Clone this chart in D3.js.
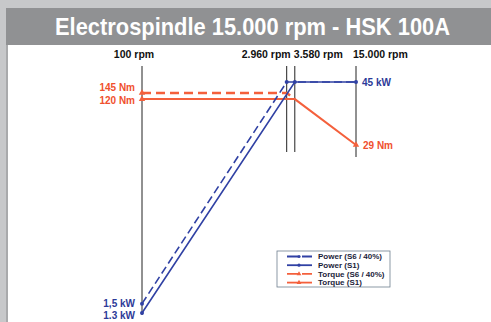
<!DOCTYPE html>
<html><head><meta charset="utf-8">
<script src="https://cdn.jsdelivr.net/npm/d3@7"></script>
<style>html,body{margin:0;padding:0;background:#c7c8ca;}svg{display:block;}</style>
</head><body>
<script>
const titleText = "Electrospindle 15.000 rpm - HSK 100A";
const rpmTicks = [100, 2960, 3580, 15000];
const rpmLabels = ["100 rpm", "2.960 rpm", "3.580 rpm", "15.000 rpm"];
const powerS6 = [[100, 1.5], [2960, 45], [15000, 45]];
const powerS1 = [[100, 1.3], [3580, 45], [15000, 45]];
const torqueS6 = [[100, 145], [2960, 145], [3580, 120]];
const torqueS1 = [[100, 120], [3580, 120], [15000, 29]];
const powerLabels = [[1.5, "1,5 kW"], [1.3, "1.3 kW"]];
const torqueLabels = [[145, "145 Nm"], [120, "120 Nm"]];
const legendNames = ["Power (S6 / 40%)", "Power (S1)", "Torque (S6 / 40%)", "Torque (S1)"];

const W = 491, H = 322;
const BLUE = "#3041a4", ORANGE = "#f4603c", OTXT = "#f0502e", BTXT = "#2c3a98";
const svg = d3.select("body").append("svg").attr("width", W).attr("height", H);

// frame
svg.append("rect").attr("x", 0).attr("y", 0).attr("width", W).attr("height", H).attr("fill", "#c7c8ca");
svg.append("rect").attr("x", 6).attr("y", 8).attr("width", W - 6).attr("height", 37).attr("fill", "#909193");
svg.append("rect").attr("x", 6).attr("y", 45).attr("width", 2).attr("height", H - 45).attr("fill", "#a9aaac");
svg.append("rect").attr("x", 8).attr("y", 45).attr("width", W - 8).attr("height", H - 45).attr("fill", "#ffffff");
svg.append("text").attr("x", 55).attr("y", 35).attr("textLength", 395).attr("lengthAdjust", "spacingAndGlyphs")
  .attr("font-family", "'Liberation Sans Narrow','Liberation Sans',Arial,sans-serif").attr("font-weight", "bold")
  .attr("font-size", 24).attr("fill", "#ffffff").text(titleText);

const x = d3.scaleLog().domain([100, 15000]).range([142, 356]);
const yP = d3.scaleLog().domain([1.3, 45]).range([313, 82]);
const yT = d3.scaleLog().domain([29, 145]).range([145, 93]);

const font = "'Liberation Sans',Arial,sans-serif";

// vertical rpm lines
const vBottoms = [yP(1.3) + 2, 152, 152, yT(29) + 12];
rpmTicks.forEach((r, i) => {
  svg.append("line").attr("x1", x(r)).attr("x2", x(r)).attr("y1", 66).attr("y2", vBottoms[i])
    .attr("stroke", "#222").attr("stroke-width", 1);
});
const labelAnchor = ["middle", "end", "start", "start"];
const labelDx = [-8, 4, -1, -3];
rpmTicks.forEach((r, i) => {
  svg.append("text").attr("x", x(r) + labelDx[i]).attr("y", 58).attr("text-anchor", labelAnchor[i])
    .attr("font-family", font).attr("font-weight", "bold").attr("font-size", 10.5).attr("fill", "#111")
    .text(rpmLabels[i]);
});

const lineP = d3.line().x(d => x(d[0])).y(d => yP(d[1]));
const lineT = d3.line().x(d => x(d[0])).y(d => yT(d[1]));

svg.append("path").attr("d", lineT(torqueS6)).attr("fill", "none").attr("stroke", ORANGE)
  .attr("stroke-width", 2.5).attr("stroke-dasharray", "9,5");
svg.append("path").attr("d", lineT(torqueS1)).attr("fill", "none").attr("stroke", ORANGE).attr("stroke-width", 2);
svg.append("path").attr("d", lineP(powerS6)).attr("fill", "none").attr("stroke", BLUE)
  .attr("stroke-width", 1.6).attr("stroke-dasharray", "8,4");
svg.append("path").attr("d", lineP(powerS1)).attr("fill", "none").attr("stroke", BLUE).attr("stroke-width", 1.6);

// markers
const tri = d3.symbol().type(d3.symbolTriangle).size(18);
[torqueS6[0], torqueS1[0], torqueS1[2]].forEach(d => {
  svg.append("path").attr("d", tri()).attr("transform", `translate(${x(d[0])},${yT(d[1])})`).attr("fill", ORANGE);
});
[powerS6[0], powerS6[1], powerS1[0], powerS1[1], powerS1[2]].forEach(d => {
  svg.append("circle").attr("cx", x(d[0])).attr("cy", yP(d[1])).attr("r", 2).attr("fill", BLUE);
});

// value labels (spread apart so they do not collide)
const torqueDy = [-2, 5], powerDy = [3, 5.5];
torqueLabels.forEach(([v, t], i) => {
  svg.append("text").attr("x", 135).attr("y", yT(v) + torqueDy[i]).attr("text-anchor", "end")
    .attr("font-family", font).attr("font-weight", "bold").attr("font-size", 10).attr("fill", OTXT).text(t);
});
powerLabels.forEach(([v, t], i) => {
  svg.append("text").attr("x", 135).attr("y", yP(v) + powerDy[i]).attr("text-anchor", "end")
    .attr("font-family", font).attr("font-weight", "bold").attr("font-size", 10).attr("fill", BTXT).text(t);
});
svg.append("text").attr("x", 362).attr("y", yP(45) + 3.5).attr("font-family", font).attr("font-weight", "bold")
  .attr("font-size", 10).attr("fill", BTXT).text("45 kW");
svg.append("text").attr("x", 363).attr("y", yT(29) + 3.5).attr("font-family", font).attr("font-weight", "bold")
  .attr("font-size", 10).attr("fill", OTXT).text("29 Nm");

// legend
const lg = svg.append("g").attr("transform", "translate(277,251)");
lg.append("rect").attr("width", 113).attr("height", 36).attr("fill", "#fff").attr("stroke", "#6f7f8f").attr("stroke-width", 0.8);
const styles = [
  {c: BLUE, dash: "11,4", m: "c"}, {c: BLUE, dash: null, m: "c"},
  {c: ORANGE, dash: "11,4", m: "t"}, {c: ORANGE, dash: null, m: "t"}
];
legendNames.forEach((n, i) => {
  const yy = 5.5 + i * 8.7;
  lg.append("line").attr("x1", 10).attr("x2", 35).attr("y1", yy).attr("y2", yy).attr("stroke", styles[i].c)
    .attr("stroke-width", 1.8).attr("stroke-dasharray", styles[i].dash);
  if (styles[i].m === "c") lg.append("circle").attr("cx", 22).attr("cy", yy).attr("r", 1.6).attr("fill", styles[i].c);
  else lg.append("path").attr("d", d3.symbol().type(d3.symbolTriangle).size(10)()).attr("transform", `translate(22,${yy})`).attr("fill", styles[i].c);
  lg.append("text").attr("x", 41).attr("y", yy + 2.8).attr("font-family", font).attr("font-weight", "bold")
    .attr("font-size", 8).attr("fill", "#1a1d3a").text(n);
});
</script>
</body></html>
